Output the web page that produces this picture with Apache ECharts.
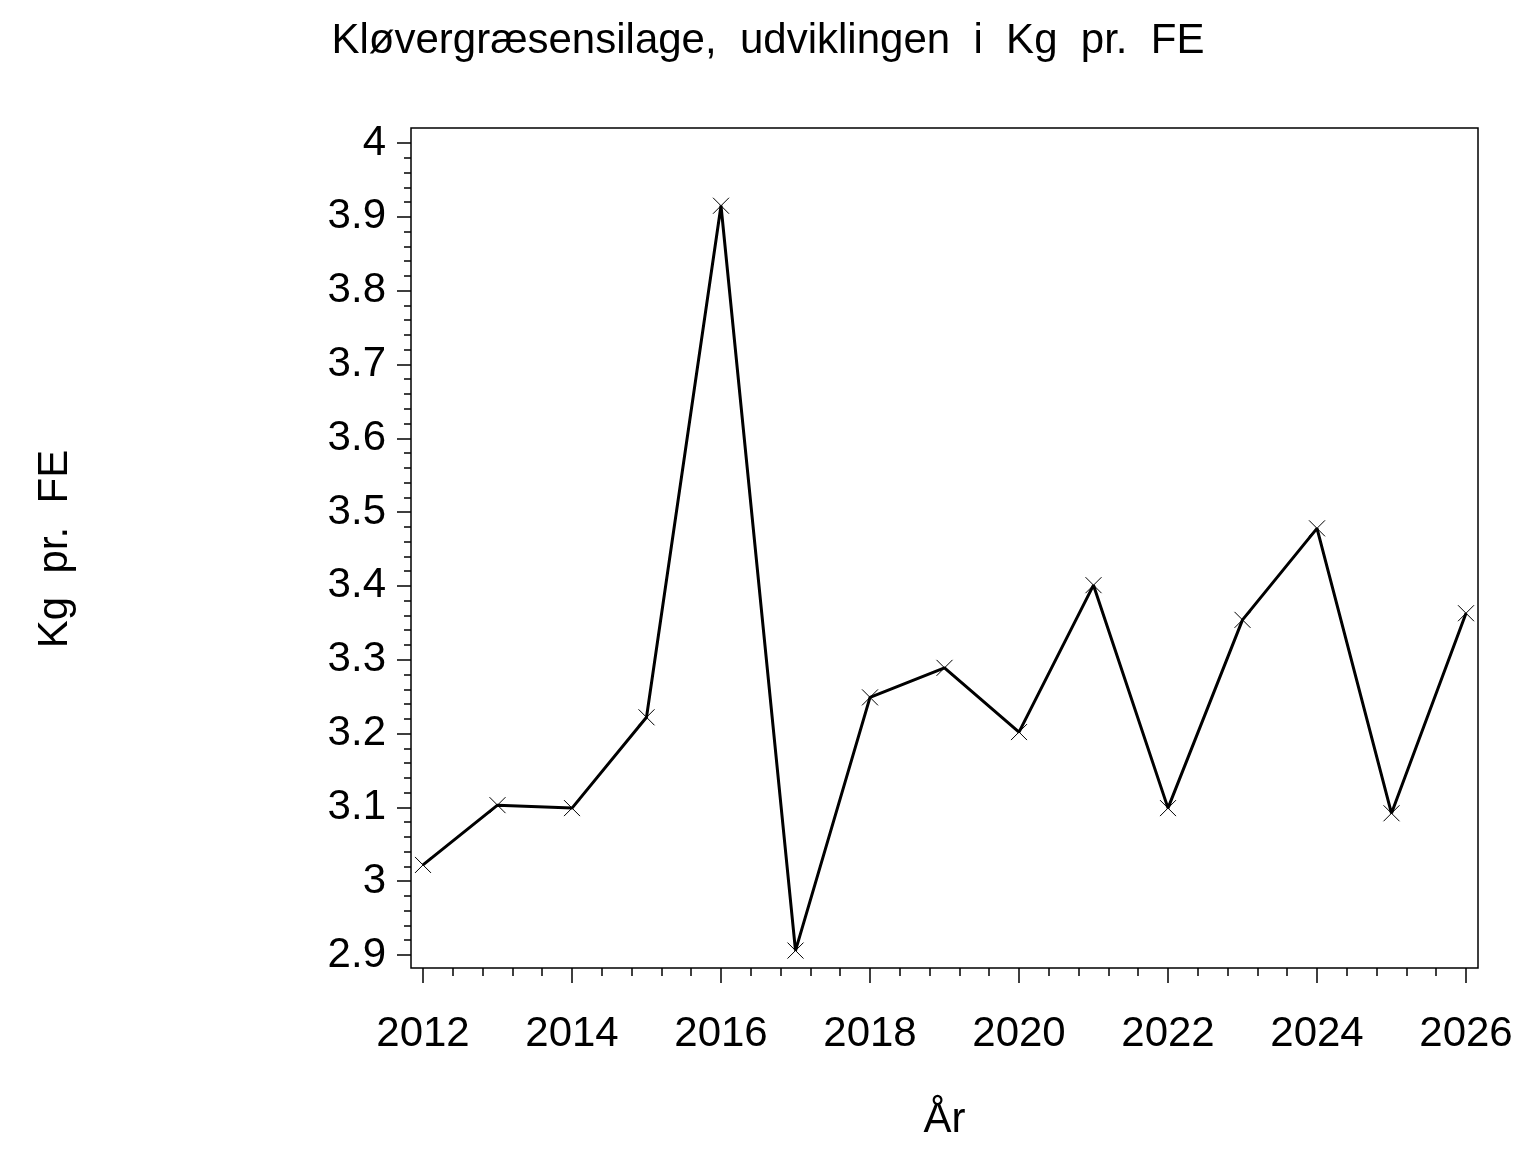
<!DOCTYPE html>
<html>
<head>
<meta charset="utf-8">
<script src="https://cdn.jsdelivr.net/npm/echarts@6/dist/echarts.min.js"></script>
<style>
  html, body { margin: 0; padding: 0; background: #fff; }
  #chart { width: 1536px; height: 1152px; }
</style>
</head>
<body>
<div id="chart"></div>
<script>
// år og værdier (Kg pr. FE)
const years = [2012, 2013, 2014, 2015, 2016, 2017, 2018, 2019, 2020, 2021, 2022, 2023, 2024, 2025, 2026];
const kgPerFE = [3.022, 3.103, 3.099, 3.222, 3.915, 2.906, 3.249, 3.289, 3.202, 3.401, 3.099, 3.354, 3.478, 3.092, 3.363];

const titleText = "Kløvergræsensilage,  udviklingen  i  Kg  pr.  FE";
const yName = "Kg  pr.  FE";
const xName = "År";

const font = "Liberation Sans, Arial, sans-serif";

const myChart = echarts.init(document.getElementById("chart"));

const option = {
  animation: false,
  backgroundColor: "#fff",
  title: {
    text: titleText,
    left: "center",
    top: 15,
    textStyle: { fontFamily: font, fontSize: 42, fontWeight: "normal", color: "#000" },
  },
  grid: [
    // ramme
    { left: 411, top: 128, width: 1067, height: 840, show: true, borderColor: "#000", borderWidth: 1.5, backgroundColor: "transparent" },
    // plotområde
    { left: 423, top: 143, width: 1043, height: 812 },
  ],
  xAxis: [
    { gridIndex: 0, type: "value", show: false },
    {
      gridIndex: 1,
      type: "value",
      min: 2012,
      max: 2026,
      interval: 2,
      position: "bottom",
      offset: 13,
      axisLine: { show: false },
      axisTick: { show: true, length: 15, lineStyle: { color: "#000", width: 1.5 } },
      minorTick: { show: true, splitNumber: 5, length: 8, lineStyle: { color: "#000", width: 1.5 } },
      splitLine: { show: false },
      axisLabel: { fontFamily: font, fontSize: 42, color: "#000", margin: 45, formatter: (v) => String(v) },
      name: xName,
      nameLocation: "middle",
      nameGap: 131,
      nameTextStyle: { fontFamily: font, fontSize: 42, color: "#000" },
    },
  ],
  yAxis: [
    { gridIndex: 0, type: "value", show: false },
    {
      gridIndex: 1,
      type: "value",
      min: 2.9,
      max: 4.0,
      interval: 0.1,
      offset: 12,
      axisLine: { show: false },
      axisTick: { show: true, length: 14, lineStyle: { color: "#000", width: 1.5 } },
      minorTick: { show: true, splitNumber: 5, length: 7, lineStyle: { color: "#000", width: 1.5 } },
      splitLine: { show: false },
      axisLabel: { fontFamily: font, fontSize: 42, color: "#000", margin: 25 },
      name: yName,
      nameLocation: "middle",
      nameRotate: 90,
      nameGap: 335,
      nameTextStyle: { fontFamily: font, fontSize: 42, color: "#000" },
    },
  ],
  series: [
    {
      type: "line",
      xAxisIndex: 1,
      yAxisIndex: 1,
      data: years.map((y, i) => [y, kgPerFE[i]]),
      symbol: "path://M0,0L16,16M16,0L0,16",
      symbolSize: 16,
      showAllSymbol: true,
      itemStyle: { color: "rgba(0,0,0,0)", borderColor: "#000", borderWidth: 1 },
      lineStyle: { color: "#000", width: 3 },
      emphasis: { disabled: true },
    },
  ],
};

option && myChart.setOption(option);
</script>
</body>
</html>
